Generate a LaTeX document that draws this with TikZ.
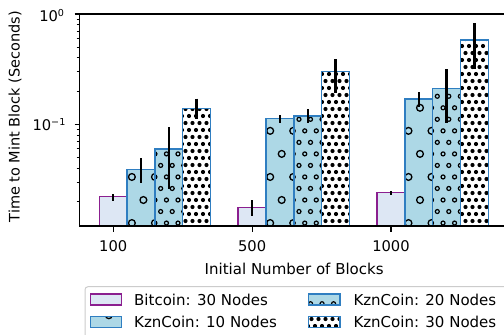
\documentclass[tikz,border=0pt]{standalone}
\usepackage{fontspec}
\setmainfont{DejaVu Sans}
\definecolor{btfill}{HTML}{DDE7F4}
\definecolor{btedge}{HTML}{8B1F8F}
\definecolor{kzfill}{HTML}{ADD8E6}
\definecolor{kzedge}{HTML}{2F7EC1}
\definecolor{legedge}{HTML}{CCCCCC}

% hatch grid: x1,x2,y1,y2,offset,style,radius
\newcommand\hatchgrid[7]{%
  \begin{scope}
   \clip (#1,#3) rectangle (#2,#4);
   \pgfmathtruncatemacro\hgimin{floor(((#3)-200)/(#5))-1}
   \pgfmathtruncatemacro\hgimax{ceil(((#4)-200)/(#5))+1}
   \pgfmathtruncatemacro\hgkmin{floor(((#1)-420)/(#5))-2}
   \pgfmathtruncatemacro\hgkmax{ceil(((#2)-420)/(#5))+1}
   \foreach \i in {\hgimin,...,\hgimax}{
     \pgfmathsetmacro\hgsx{mod(abs(\i),2)*(#5)/2}
     \foreach \k in {\hgkmin,...,\hgkmax}{
       \path[#6] (420+\hgsx+#5*\k, 200+#5*\i) circle[radius=#7pt];
     }
   }
  \end{scope}}

\newcommand\tenpow[1]{10\raisebox{5.6pt}{\fontsize{9.6}{11}\selectfont #1}}

\begin{document}
\begin{tikzpicture}[x=1pt,y=-1pt,
  hatchO/.style={draw=black,line width=1.3pt},
  hatcho/.style={draw=black,line width=1.2pt},
  hatchdot/.style={fill=black},
  btbar/.style={draw=btedge,line width=1.5pt},
  kzbar/.style={draw=kzedge,line width=1.5pt},
  errbar/.style={draw=black,line width=2.3pt},
  spine/.style={draw=black,line width=1.2pt},
  majtick/.style={draw=black,line width=1.2pt},
  mintick/.style={draw=black,line width=0.9pt},
  ticklab/.style={font=\fontsize{14.7}{17}\selectfont,inner sep=0pt},
  axlab/.style={font=\fontsize{15}{18}\selectfont,inner sep=0pt},
  legtext/.style={font=\fontsize{15}{18}\selectfont,inner sep=0pt,anchor=west}]
\useasboundingbox (0,0) rectangle (504,335);

% ---------- bars ----------
\begin{scope}
\clip (79.3,14) rectangle (520,226);
% Bitcoin: 30 Nodes
\foreach \c/\t in {113.2/196.7, 252.1/207.7, 391/192.7}{
  \fill[btfill] (\c-13.9,230) rectangle (\c+13.9,\t);
  \draw[btbar] (\c-13.9,230) |- (\c+13.9,\t) -- (\c+13.9,230);
}
% KznCoin: 10 Nodes
\foreach \c/\t in {141/169.3, 279.9/118.7, 418.8/99}{
  \fill[kzfill] (\c-13.9,230) rectangle (\c+13.9,\t);
  \hatchgrid{\c-13.9}{\c+13.9}{\t}{226}{23.05}{hatchO}{3.4}
  \draw[kzbar] (\c-13.9,230) |- (\c+13.9,\t) -- (\c+13.9,230);
}
% KznCoin: 20 Nodes
\foreach \c/\t in {168.8/149, 307.7/116, 446.6/88.7}{
  \fill[kzfill] (\c-13.9,230) rectangle (\c+13.9,\t);
  \hatchgrid{\c-13.9}{\c+13.9}{\t}{226}{11.525}{hatcho}{2.0}
  \draw[kzbar] (\c-13.9,230) |- (\c+13.9,\t) -- (\c+13.9,230);
}
% KznCoin: 30 Nodes
\foreach \c/\t in {196.6/108.7, 335.5/71.7, 474.4/40}{
  \fill[white] (\c-13.9,230) rectangle (\c+13.9,\t);
  \hatchgrid{\c-13.9}{\c+13.9}{\t}{226}{7.0}{hatchdot}{2.1}
  \draw[kzbar] (\c-13.9,230) |- (\c+13.9,\t) -- (\c+13.9,230);
}
% error bars
\foreach \c/\a/\b in {113.2/194/200.7, 252.1/200.3/216, 391/191/195.3,
                      141/158.3/183.3, 279.9/115/122.7, 418.8/92.3/106.7,
                      168.8/127.3/189.3, 307.7/109.3/123.3, 446.6/69.3/123.3,
                      196.6/98.7/119, 335.5/59.3/92.7, 474.4/23.3/69}{
  \draw[errbar] (\c,\a) -- (\c,\b);
}
\end{scope}

% ---------- axes ----------
\draw[spine] (520,14) -- (79.3,14) -- (79.3,226) -- (520,226);

% x ticks
\foreach \x/\lab/\nm in {113.2/100/xa, 252.1/500/xb, 391/1000/xc}{
  \draw[majtick] (\x,226) -- (\x,231.5);
  \node[ticklab] (\nm) at (\x,246) {\lab};
}
\node[axlab] (xlabel) at (294.2,269) {Initial Number of Blocks};

% y ticks
\draw[majtick] (74.6,14) -- (79.3,14);
\draw[majtick] (74.6,124.3) -- (79.3,124.3);
\foreach \k in {2,...,9}{
  \pgfmathsetmacro\ya{234.6-110.3*ln(\k)/ln(10)}
  \pgfmathsetmacro\yb{124.3-110.3*ln(\k)/ln(10)}
  \draw[mintick] (76.5,\ya) -- (79.3,\ya);
  \draw[mintick] (76.5,\yb) -- (79.3,\yb);
}
\node[ticklab,anchor=base east] (ya) at (64.3,21.7) {\tenpow{0}};
\node[ticklab,anchor=base east] (yb) at (65.6,130.7) {\tenpow{−1}};
\node[axlab,rotate=90,font=\fontsize{14.5}{17}\selectfont] (ylabel) at (15,116.7) {Time to Mint Block (Seconds)};

% ---------- legend ----------
\draw[legedge,fill=white,rounded corners=3pt,line width=1pt] (85,286.7) rectangle (540,360);
% Bitcoin
\fill[btfill] (90.7,294) rectangle (121.7,305);
\draw[btbar] (90.7,294) rectangle (121.7,305);
\node[legtext] (l1) at (134,300) {Bitcoin: 30 Nodes};
% KznCoin 10
\fill[kzfill] (90.7,316.7) rectangle (121.7,327.3);
\hatchgrid{90.7}{121.7}{316.7}{327.3}{23.05}{hatchO}{3.4}
\draw[kzbar] (90.7,316.7) rectangle (121.7,327.3);
\node[legtext] (l2) at (134,321.7) {KznCoin: 10 Nodes};
% KznCoin 20
\fill[kzfill] (308.3,294) rectangle (340,305);
\hatchgrid{308.3}{340}{294}{305}{11.525}{hatcho}{2.0}
\draw[kzbar] (308.3,294) rectangle (340,305);
\node[legtext] (l3) at (353.3,300) {KznCoin: 20 Nodes};
% KznCoin 30
\fill[white] (308.3,316.7) rectangle (340,327.3);
\hatchgrid{308.3}{340}{316.7}{327.3}{7.0}{hatchdot}{2.1}
\draw[kzbar] (308.3,316.7) rectangle (340,327.3);
\node[legtext] (l4) at (353.3,321.7) {KznCoin: 30 Nodes};
\end{tikzpicture}
\end{document}
